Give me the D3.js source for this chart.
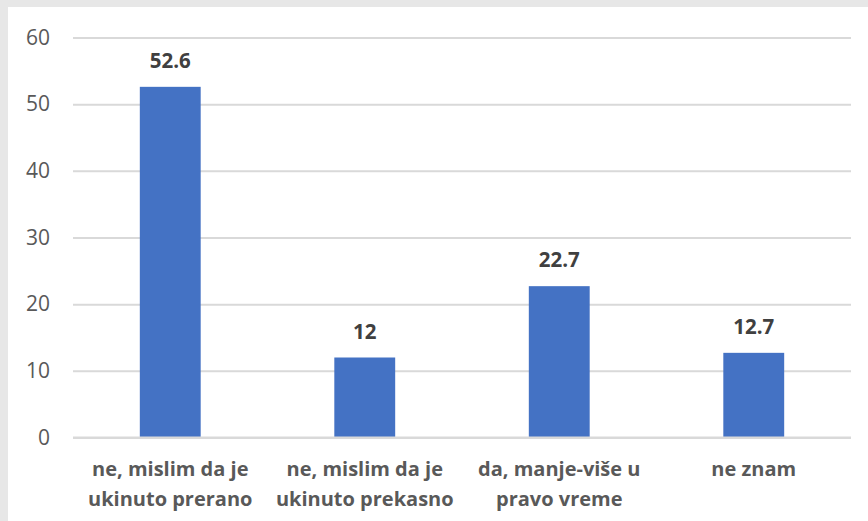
<!DOCTYPE html>
<html lang="sr">
<head>
<meta charset="utf-8">
<title>bar chart</title>
<script src="https://d3js.org/d3.v7.min.js"></script>
<style>
body { margin: 0; background: #e7e7e7; }
svg { display: block; }
</style>
</head>
<body>
<script>
var categories = [
    ["ne, mislim da je", "ukinuto prerano"],
    ["ne, mislim da je", "ukinuto prekasno"],
    ["da, manje-više u", "pravo vreme"],
    ["ne znam"]
];
var values = [52.6, 12, 22.7, 12.7];
var valueLabels = ["52.6", "12", "22.7", "12.7"];
var yTicks = [0, 10, 20, 30, 40, 50, 60];

var width = 868, height = 521;
var margin = {top: 37.5, right: 17, bottom: 83.5, left: 73};

var svg = d3.select("body").append("svg")
    .attr("width", width)
    .attr("height", height);

// white chart area, grey strip left and top
svg.append("rect")
    .attr("x", 8).attr("y", 7)
    .attr("width", width - 8).attr("height", height - 7)
    .attr("fill", "#ffffff");

var x = d3.scaleBand()
    .domain(d3.range(categories.length))
    .range([margin.left, width - margin.right])
    .paddingInner(0.687)
    .paddingOuter(0.3435);

var y = d3.scaleLinear()
    .domain([0, 60])
    .range([height - margin.bottom, margin.top]);

var yAxis = svg.append("g")
    .attr("transform", "translate(" + margin.left + ",0)")
    .call(d3.axisLeft(y).tickValues(yTicks)
        .tickSize(-(width - margin.left - margin.right))
        .tickPadding(23));
yAxis.select(".domain").remove();
yAxis.selectAll(".tick line")
    .attr("stroke", "#d9d9d9")
    .attr("stroke-width", 2);
yAxis.selectAll(".tick text")
    .attr("fill", "#595959")
    .attr("font-family", "Open Sans, sans-serif")
    .attr("font-size", 21);

svg.selectAll(".bar")
    .data(values)
    .enter()
    .append("rect")
    .attr("class", "bar")
    .attr("x", function(d, i) { return x(i); })
    .attr("y", function(d) { return y(d); })
    .attr("width", x.bandwidth())
    .attr("height", function(d) { return y(0) - y(d); })
    .attr("fill", "#4472c4");

// baseline drawn over the bars
svg.append("line")
    .attr("x1", margin.left).attr("x2", width - margin.right)
    .attr("y1", y(0)).attr("y2", y(0))
    .attr("stroke", "#d9d9d9")
    .attr("stroke-width", 2);

svg.selectAll(".vlabel")
    .data(values)
    .enter()
    .append("text")
    .attr("class", "vlabel")
    .attr("x", function(d, i) { return x(i) + x.bandwidth() / 2; })
    .attr("y", function(d) { return y(d) - 19; })
    .attr("text-anchor", "middle")
    .attr("fill", "#404040")
    .attr("font-family", "Open Sans, sans-serif")
    .attr("font-weight", "bold")
    .attr("font-size", 20.5);

svg.selectAll(".vlabel")
    .text(function(d, i) { return valueLabels[i]; });

var cat = svg.selectAll(".cat")
    .data(categories)
    .enter()
    .append("text")
    .attr("class", "cat")
    .attr("text-anchor", "middle")
    .attr("fill", "#595959")
    .attr("font-family", "Open Sans, sans-serif")
    .attr("font-weight", "bold")
    .attr("font-size", 20);

cat.selectAll("tspan")
    .data(function(d, i) { return d.map(function(t) { return {t: t, i: i}; }); })
    .enter()
    .append("tspan")
    .attr("x", function(d) { return x(d.i) + x.bandwidth() / 2; })
    .attr("y", function(d, j) { return 476 + j * 30; })
    .text(function(d) { return d.t; });
</script>
</body>
</html>
